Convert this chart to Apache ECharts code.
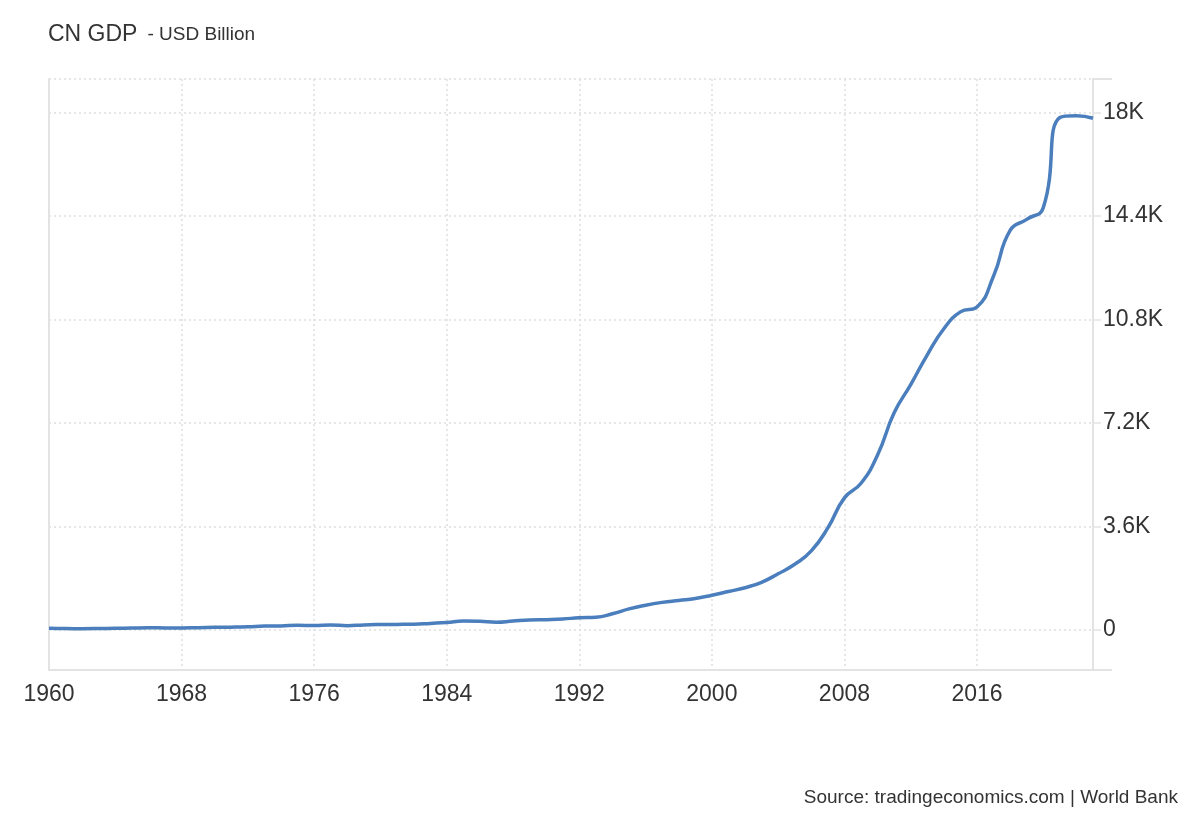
<!DOCTYPE html>
<html>
<head>
<meta charset="utf-8">
<script src="https://cdn.jsdelivr.net/npm/echarts@6/dist/echarts.min.js"></script>
<style>
  html, body { margin: 0; padding: 0; background: #ffffff; }
  #chart { width: 1200px; height: 820px; }
</style>
</head>
<body>
<div id="chart"></div>
<script>
// ---- Data (USD Billion) ----
const years = [
  1960, 1961, 1962, 1963, 1964, 1965, 1966, 1967, 1968, 1969,
  1970, 1971, 1972, 1973, 1974, 1975, 1976, 1977, 1978, 1979,
  1980, 1981, 1982, 1983, 1984, 1985, 1986, 1987, 1988, 1989,
  1990, 1991, 1992, 1993, 1994, 1995, 1996, 1997, 1998, 1999,
  2000, 2001, 2002, 2003, 2004, 2005, 2006, 2007, 2008, 2009,
  2010, 2011, 2012, 2013, 2014, 2015, 2016, 2017, 2018, 2019,
  2020, 2021, 2022, 2023
];
const gdp = [
  60, 50, 47, 51, 60, 70, 77, 73, 71, 80,
  93, 100, 114, 139, 144, 163, 154, 175, 150, 178,
  191, 196, 205, 231, 260, 310, 301, 273, 312, 348,
  361, 383, 427, 445, 564, 735, 864, 962, 1029, 1094,
  1211, 1339, 1471, 1660, 1955, 2286, 2752, 3550, 4594, 5102,
  6087, 7552, 8532, 9570, 10476, 11062, 11233, 12310, 13895, 14280,
  14688, 17820, 17882, 17795
];
const yTicks = [0, 3600, 7200, 10800, 14400, 18000];
const xTickStep = 8;
const titleMain = 'CN GDP';
const titleUnit = '- USD Billion';
const sourceText = 'Source: tradingeconomics.com | World Bank';

const seriesData = years.map((y, i) => [y, gdp[i]]);
const yMin = -1390, yMax = 19160;

const chart = echarts.init(document.getElementById('chart'), null, { renderer: 'canvas' });
const FONT = '"Liberation Sans", Arial, Helvetica, sans-serif';
const gridLine = { color: '#dedede', width: 1.5, type: [2, 3] };
const axisColor = '#e3e3e3';

chart.setOption({
  animation: false,
  backgroundColor: '#ffffff',
  textStyle: { fontFamily: FONT },
  title: [
    {
      left: 43, top: 18,
      text: '{a|' + titleMain + '}  {b|' + titleUnit + '}',
      textStyle: {
        fontWeight: 'normal',
        rich: {
          a: { fontSize: 23, fontWeight: 'normal', color: '#333333', fontFamily: FONT },
          b: { fontSize: 19, fontWeight: 'normal', color: '#333333', fontFamily: FONT }
        }
      }
    },
    {
      right: 17, top: 783,
      text: sourceText,
      textStyle: { fontSize: 19, fontWeight: 'normal', color: '#333333', fontFamily: FONT }
    }
  ],
  grid: { left: 49, right: 107, top: 79, bottom: 150, outerBoundsMode: 'none', containLabel: false },
  xAxis: {
    type: 'value',
    min: 1960, max: 2023, interval: xTickStep,
    axisLine: { show: true, onZero: false, lineStyle: { color: axisColor, width: 2 } },
    axisTick: { show: false },
    axisLabel: {
      color: '#333333', fontSize: 23, margin: 13, fontFamily: FONT,
      formatter: v => String(v),
      showMaxLabel: false
    },
    splitLine: { show: true, lineStyle: gridLine }
  },
  yAxis: [
    {
      type: 'value', position: 'right',
      min: yMin, max: yMax,
      axisLine: { show: true, onZero: false, lineStyle: { color: axisColor, width: 2 } },
      axisTick: { show: true, length: 8, customValues: yTicks.concat([yMax]), lineStyle: { color: axisColor, width: 1.5 } },
      axisLabel: {
        customValues: yTicks,
        color: '#333333', fontSize: 23, margin: 10, fontFamily: FONT,
        formatter: v => v === 0 ? '0' : (v / 1000) + 'K'
      },
      splitLine: { show: true, lineStyle: gridLine }
    },
    {
      type: 'value', position: 'left',
      min: yMin, max: yMax,
      axisLine: { show: true, onZero: false, lineStyle: { color: axisColor, width: 2 } },
      axisTick: { show: false },
      axisLabel: { show: false },
      splitLine: { show: false }
    },
    {
      type: 'value', position: 'right',
      min: yMin, max: yMax,
      axisLine: { show: false, onZero: false },
      axisTick: { show: true, length: 19, customValues: [yMin, yMax], lineStyle: { color: axisColor, width: 2 } },
      axisLabel: { show: false },
      splitLine: { show: false }
    }
  ],
  series: [
    {
      type: 'line',
      yAxisIndex: 0,
      data: seriesData,
      showSymbol: false,
      smooth: 0.5,
      lineStyle: { color: '#4a7ebd', width: 3.5 },
      itemStyle: { color: '#4a7ebd' }
    }
  ]
});
</script>
</body>
</html>
